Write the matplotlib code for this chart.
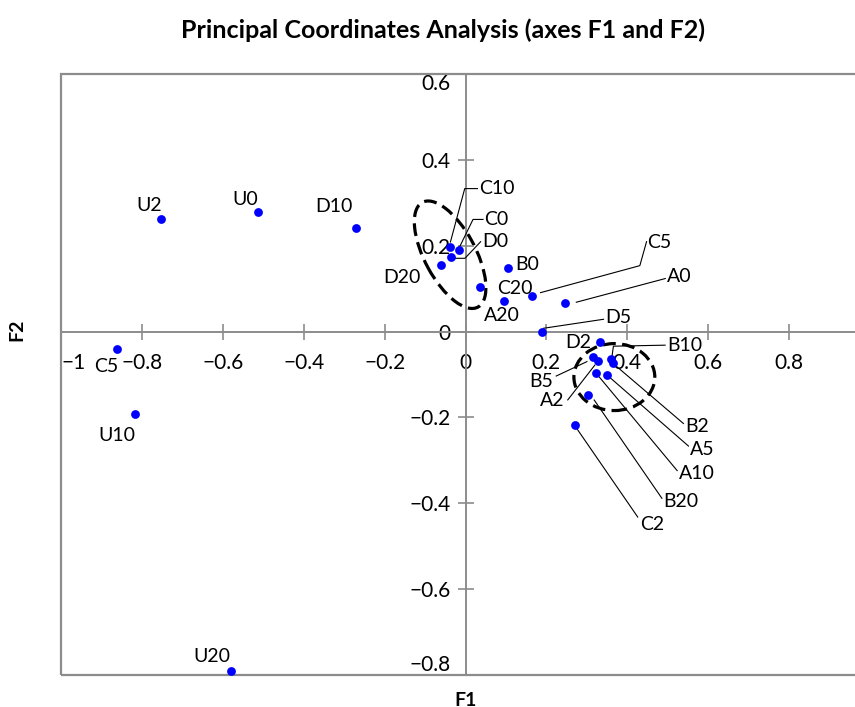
import numpy as np
import matplotlib
matplotlib.use("Agg")
import matplotlib.pyplot as plt
from matplotlib.patches import Ellipse, Rectangle

plt.rcParams['font.family'] = ['Lato', 'DejaVu Sans']

# observations and their coordinates on F1 / F2
names = ["U2", "U0", "D10", "C5", "U10", "U20", "C10", "C0", "D0", "D20", "C20", "B0", "A20",
         "C5", "A0", "D5", "D2", "B5", "A2", "B10", "B2", "A10", "A5", "B20", "C2"]
f1 = [-0.752, -0.514, -0.270, -0.862, -0.818, -0.580, -0.039, -0.017, -0.035, -0.061, 0.035, 0.104, 0.095,
      0.165, 0.245, 0.188, 0.333, 0.315, 0.327, 0.360, 0.364, 0.322, 0.351, 0.304, 0.270]
f2 = [0.262, 0.279, 0.242, -0.041, -0.193, -0.790, 0.197, 0.189, 0.173, 0.156, 0.104, 0.148, 0.071,
      0.083, 0.066, 0.000, -0.024, -0.060, -0.069, -0.065, -0.073, -0.097, -0.102, -0.147, -0.217]

xticks = [-1, -0.8, -0.6, -0.4, -0.2, 0, 0.2, 0.4, 0.6, 0.8, 1]
yticks = [-0.8, -0.6, -0.4, -0.2, 0, 0.2, 0.4, 0.6]

# label placement, pixel offsets from the point (image y goes down)
plain = {0: (-12, -13.5, 'center'), 1: (-12, -12, 'center'), 2: (-22.7, -21, 'center'),
         3: (-11, 17, 'center'), 4: (-18, 21, 'center'), 5: (-19, -14, 'center'),
         9: (-39, 12.5, 'center'), 10: (17, 2, 'left'), 11: (8, -4, 'left'),
         12: (-2, 14, 'center'), 16: (-9, 1, 'right')}
leaders = {6: ([(0.7, -5), (15, -58.4), (27.7, -58.4)], (29.5, -58.4), 'left'),
           7: ([(1, -3.6), (14.4, -31), (24.4, -31)], (26, -31), 'left'),
           8: ([(2, 1), (13.6, 1), (29.3, -15.6)], (31, -16), 'left'),
           13: ([(8.3, -3.3), (107.6, -30.3), (114.3, -54.3)], (115, -53), 'left'),
           14: ([(11.7, -1), (100.7, -24.7)], (102, -27), 'left'),
           15: ([(2, -3.3), (62, -12.3)], (64, -14), 'left'),
           19: ([(1, -4), (2.3, -13.3), (54, -14.3)], (56, -14), 'left'),
           17: ([(-6, 4.3), (-36.7, 18.7)], (-39.7, 24.4), 'right'),
           18: ([(-3, 4), (-30, 38.7)], (-33, 39), 'right'),
           20: ([(4.4, 4), (70.7, 60.6)], (72.7, 63.3), 'left'),
           22: ([(2.7, 2.4), (81, 70.7)], (82, 74), 'left'),
           21: ([(3.7, 4), (81.4, 97.4)], (83, 100), 'left'),
           23: ([(5.7, 5.3), (73.4, 103.6)], (75, 107), 'left'),
           24: ([(2, 3.7), (63, 92.3)], (65, 99.5), 'left')}

grey = '#8c8c8c'
fig = plt.figure(figsize=(8.55, 7.07), dpi=100)
ax = fig.add_axes([61 / 855, 1 - 675 / 707, 809 / 855, 601 / 707])
ax.set_xlim(-1, 1)
ax.set_ylim(-0.8, 0.6)

# axes through the origin plus an outer frame
ax.spines['left'].set_position(('data', 0))
ax.spines['bottom'].set_position(('data', 0))
ax.spines['top'].set_visible(False)
ax.spines['right'].set_visible(False)
for s in ['left', 'bottom']:
    ax.spines[s].set_color(grey)
    ax.spines[s].set_linewidth(1.4)
ax.add_patch(Rectangle((0, 0), 1, 1, transform=ax.transAxes, fill=False,
                       edgecolor=grey, linewidth=1.6, clip_on=False, zorder=1))

ax.set_xticks(xticks)
ax.set_yticks(yticks)
# the tick at 1 falls outside the picture, so its label stays empty
ax.set_xticklabels([f"{t:g}".replace('-', '\u2212') if t < 1 else '' for t in xticks])
ax.set_yticklabels([f"{t:g}".replace('-', '\u2212') for t in yticks])
ax.tick_params(direction='inout', length=11, width=1.2, color=grey, labelsize=15)
ax.tick_params(axis='x', pad=10)
ax.tick_params(axis='y', pad=5)
ax.get_xticklabels()[0].set_horizontalalignment('left')
ax.get_yticklabels()[0].set_verticalalignment('bottom')
ax.get_yticklabels()[-1].set_verticalalignment('top')

# dashed groups
ax.add_patch(Ellipse((-0.038, 0.179), 0.28, 0.125, angle=-60, fill=False,
                     edgecolor='black', linewidth=2.3, linestyle=(0, (4, 2))))
ax.add_patch(Ellipse((0.368, -0.106), 0.2, 0.156, angle=0, fill=False,
                     edgecolor='black', linewidth=2.3, linestyle=(0, (4, 2))))

ax.scatter(f1, f2, s=40, color='#0000ff', zorder=5, linewidths=0)


def shift(x, y, dx, dy):
    p = ax.transData.transform((x, y))
    return ax.transData.inverted().transform((p[0] + dx, p[1] - dy))


for i, (dx, dy, ha) in plain.items():
    ax.annotate(names[i], (f1[i], f2[i]), xytext=(dx, -dy), textcoords='offset pixels',
                ha=ha, va='center', fontsize=14)

for i, (path, lab, ha) in leaders.items():
    pts = np.array([shift(f1[i], f2[i], dx, dy) for dx, dy in path])
    ax.plot(pts[:, 0], pts[:, 1], color='black', linewidth=0.8, zorder=4)
    ax.annotate(names[i], (f1[i], f2[i]), xytext=(lab[0], -lab[1]), textcoords='offset pixels',
                ha=ha, va='center', fontsize=14)

fig.text(443 / 855, 1 - 30 / 707, "Principal Coordinates Analysis (axes F1 and F2)",
         ha='center', va='center', fontsize=18, fontweight='bold')
fig.text(466 / 855, 1 - 700 / 707, "F1", ha='center', va='center', fontsize=14, fontweight='bold')
fig.text(17 / 855, 1 - 330 / 707, "F2", ha='center', va='center', fontsize=14,
         fontweight='bold', rotation=90)

fig.savefig("out.png", dpi=100)
